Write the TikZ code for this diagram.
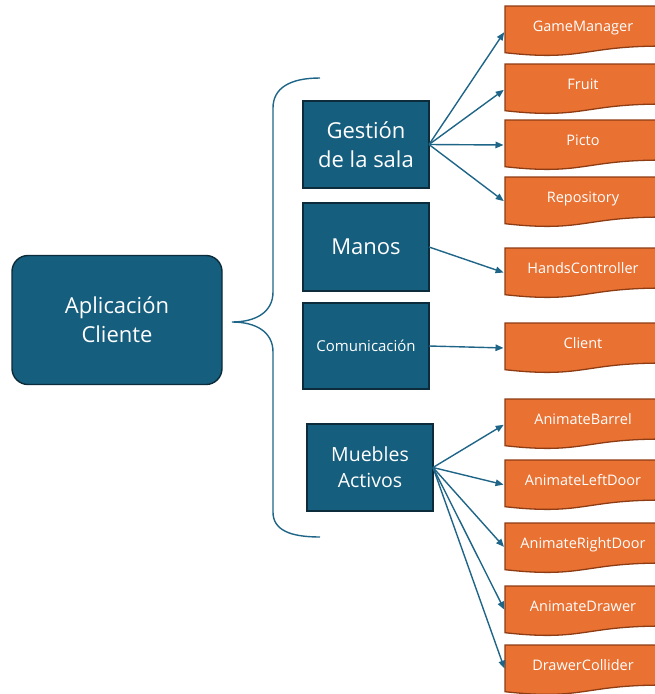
\documentclass[tikz,border=0pt]{standalone}
\usepackage{fontspec}
\setmainfont{Open Sans}
\usetikzlibrary{arrows.meta,backgrounds}

\definecolor{bluefill}{HTML}{165E7E}
\definecolor{blueedge}{HTML}{0C2B3B}
\definecolor{linkcol}{HTML}{1F6587}
\definecolor{orfill}{HTML}{E97132}
\definecolor{oredge}{HTML}{8E3C14}

\tikzset{
  topic/.style={draw=blueedge, line width=1.4pt, fill=bluefill, text=white,
    align=center, minimum width=126pt, inner sep=2pt, outer sep=0pt},
  rootbox/.style={topic, rounded corners=16pt, minimum width=210pt,
    minimum height=129pt, font=\fontsize{22}{29}\selectfont},
  classbox/.style={anchor=north west, minimum width=156pt, text height=20pt,
    text depth=20pt, inner ysep=5pt, inner xsep=0pt, outer sep=0pt,
    text=white, font=\fontsize{14.5}{17}\selectfont},
  link/.style={draw=linkcol, line width=1.4pt, shorten >=1.5pt,
    -{Triangle[length=8pt,width=6.5pt]}},
  brace/.style={draw=linkcol, line width=1.4pt}
}

\begin{document}
\begin{tikzpicture}[x=1pt,y=-1pt]
\useasboundingbox (0,0) rectangle (654,694);

% root and topic boxes
\node[rootbox] (app) at (117,320) {Aplicación\\Cliente};
\node[topic, minimum height=87pt, font=\fontsize{22}{29}\selectfont] (sala) at (366,144.5) {Gestión\\de la sala};
\node[topic, minimum height=88pt, font=\fontsize{22}{29}\selectfont] (manos) at (366,247) {Manos};
\node[topic, minimum height=86pt, font=\fontsize{15}{18}\selectfont] (com) at (366,346) {Comunicación};
\node[topic, minimum height=87pt, font=\fontsize{19.5}{26}\selectfont] (mueb) at (370,467.5) {Muebles\\Activos};

% curly brace grouping the topics
\coordinate (btop) at (320,78);
\coordinate (btip) at (232,322);
\coordinate (bbot) at (320,537);
\path[brace] (btop) .. controls (290,78) and (273,88) .. (273,108) -- (273,292)
  .. controls (273,312) and (256,322) .. (btip)
  .. controls (256,322) and (273,332) .. (273,352) -- (273,512)
  .. controls (273,530) and (290,537) .. (bbot);

% class boxes
\node[classbox] (gm) at (505,6) {GameManager};
\node[classbox] (fruit) at (505,64) {Fruit};
\node[classbox] (picto) at (505,120) {Picto};
\node[classbox] (repo) at (505,177) {Repository};
\node[classbox] (hands) at (505,248) {HandsController};
\node[classbox] (client) at (505,323) {Client};
\node[classbox] (barrel) at (505,399) {AnimateBarrel};
\node[classbox] (ldoor) at (505,460) {AnimateLeftDoor};
\node[classbox] (rdoor) at (505,523) {AnimateRightDoor};
\node[classbox] (drawer) at (505,586) {AnimateDrawer};
\node[classbox] (coll) at (505,645) {DrawerCollider};

% document-shaped backgrounds with a wavy lower edge
\begin{scope}[on background layer]
\foreach \n in {gm,fruit,picto,repo,hands,client,barrel,ldoor,rdoor,drawer,coll}{
  \path[shift={(\n.north west)}, fill=orfill, draw=oredge, line width=1.3pt]
    (0,0) -- (156,0) -- (156,40.1) .. controls (78,40.1) and (78,55.4) .. (0,46.7) -- cycle;
}
\end{scope}

% connectors
\foreach \t in {gm,fruit,picto,repo}{\draw[link] (sala.east) -- (\t.west);}
\draw[link] (manos.east) -- (hands.west);
\draw[link] (com.east) -- (client.west);
\foreach \t in {barrel,ldoor,rdoor,drawer,coll}{\draw[link] (mueb.east) -- (\t.west);}
\end{tikzpicture}
\end{document}
